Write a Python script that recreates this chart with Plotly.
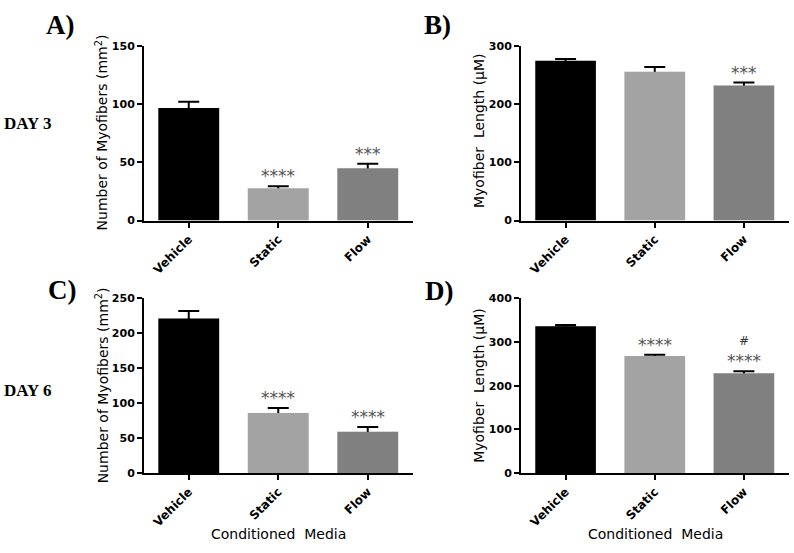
import plotly.graph_objects as go

W, H = 794, 553

categories = ["Vehicle", "Static", "Flow"]
bar_colors = ["#000000", "#a3a3a3", "#808080"]

# Panel A: Day 3, number of myofibers
a_vals = [96.7, 27.8, 45.0]
a_err = [5.5, 1.7, 3.9]
a_sig = ["", "****", "***"]
# Panel B: Day 3, myofiber length
b_vals = [274.5, 255.6, 232.2]
b_err = [3.3, 8.4, 5.0]
b_sig = ["", "", "***"]
# Panel C: Day 6, number of myofibers
c_vals = [221.3, 86.1, 59.2]
c_err = [10.7, 6.9, 6.9]
c_sig = ["", "****", "****"]
# Panel D: Day 6, myofiber length
d_vals = [336.2, 268.0, 228.9]
d_err = [2.8, 3.0, 4.4]
d_sig = ["", "****", "****"]
d_hash = ["", "", "#"]

y_ranges = {"A": [0, 150], "B": [0, 300], "C": [0, 250], "D": [0, 400]}
y_dticks = {"A": 50, "B": 100, "C": 50, "D": 100}

panels = [
    ("A", a_vals, a_err, a_sig, ["", "", ""], "x", "y"),
    ("B", b_vals, b_err, b_sig, ["", "", ""], "x2", "y2"),
    ("C", c_vals, c_err, c_sig, ["", "", ""], "x3", "y3"),
    ("D", d_vals, d_err, d_sig, d_hash, "x4", "y4"),
]

# pixel boxes of plot areas (left, right, top, bottom)
boxes = {
    "A": (144, 412.5, 41, 219.7),
    "B": (521, 788.5, 41, 219.7),
    "C": (144, 412.5, 299.5, 478.3),
    "D": (521, 788.5, 299.5, 478.3),
}

fig = go.Figure()
tick_font = dict(family="DejaVu Sans", size=11, color="#000", weight="bold")

annotations = []
for key, vals, errs, sig, extra, xa, ya in panels:
    # carrier of error bars (hidden under the visible bars)
    fig.add_trace(go.Bar(
        x=categories, y=vals, xaxis=xa, yaxis=ya,
        marker=dict(color="rgba(0,0,0,0)"),
        error_y=dict(type="data", array=errs, symmetric=True,
                     color="#000", thickness=2, width=10.5),
        showlegend=False, hoverinfo="skip",
    ))
    fig.add_trace(go.Bar(
        x=categories, y=vals, xaxis=xa, yaxis=ya,
        marker=dict(color=bar_colors, line=dict(width=0)),
        showlegend=False,
    ))
    for i, s in enumerate(sig):
        if s:
            text = s
            if extra[i]:
                text = ('<span style="font-size:12px;color:#333">' + extra[i]
                        + "</span><br>" + s)
            annotations.append(dict(
                x=i, y=vals[i] + errs[i], xref=xa, yref=ya, text=text,
                showarrow=False, yanchor="bottom", yshift=-2,
                font=dict(family="DejaVu Sans", size=17, color="#555"),
            ))

layout_axes = {}
for idx, key in enumerate(["A", "B", "C", "D"]):
    l, r, t, b = boxes[key]
    sfx = "" if idx == 0 else str(idx + 1)
    layout_axes["xaxis" + sfx] = dict(
        domain=[l / W, r / W], anchor="y" + sfx, type="category",
        range=[-0.5, 2.5], showline=True, linecolor="#000", linewidth=2,
        ticks="outside", ticklen=5, tickwidth=2, tickcolor="#000",
        tickangle=-45, tickfont=dict(family="DejaVu Sans", size=12,
                                     color="#000", weight="bold"),
        showgrid=False, zeroline=False, fixedrange=True,
    )
    layout_axes["yaxis" + sfx] = dict(
        domain=[1 - b / H, 1 - t / H], anchor="x" + sfx,
        range=y_ranges[key], dtick=y_dticks[key], tick0=0,
        showline=True, linecolor="#000", linewidth=2,
        ticks="outside", ticklen=5, tickwidth=2, tickcolor="#000",
        tickfont=tick_font, showgrid=False, zeroline=False, fixedrange=True,
    )

title_font = dict(family="DejaVu Sans", size=14, color="#000")
letter_font = dict(family="Liberation Serif", size=27, color="#000", weight="bold")
day_font = dict(family="Liberation Serif", size=17, color="#000", weight="bold")
paper_texts = [
    ("A)", 60, 19, letter_font, 0),
    ("B)", 438, 19, letter_font, 0),
    ("C)", 62, 291, letter_font, 0),
    ("D)", 439, 292, letter_font, 0),
    ("DAY 3", 27, 120, day_font, 0),
    ("DAY 6", 27, 394, day_font, 0),
    ("Number of Myofibers (mm<sup>2</sup>)", 101.5, 130, title_font, -90),
    ("Myofiber\u00a0 Length (\u00b5M)", 479, 128, title_font, -90),
    ("Number of Myofibers (mm<sup>2</sup>)", 101.5, 389, title_font, -90),
    ("Myofiber\u00a0 Length (\u00b5M)", 479, 389, title_font, -90),
    ("Conditioned\u00a0 Media", 278, 541, title_font, 0),
    ("Conditioned\u00a0 Media", 655, 541, title_font, 0),
]
for text, px, py, font, ang in paper_texts:
    annotations.append(dict(
        x=px / W, y=1 - py / H, xref="paper", yref="paper", text=text,
        showarrow=False, xanchor="center", yanchor="middle",
        font=font, textangle=ang,
    ))

fig.update_layout(
    width=W, height=H, margin=dict(l=0, r=0, t=0, b=0),
    paper_bgcolor="#fff", plot_bgcolor="#fff",
    barmode="overlay", bargap=0.32,
    annotations=annotations, showlegend=False,
    **layout_axes,
)

fig.write_html(
    "out.html",
    config={"displayModeBar": False},
    post_script="document.body.style.margin='0';document.body.style.overflow='hidden';",
)
